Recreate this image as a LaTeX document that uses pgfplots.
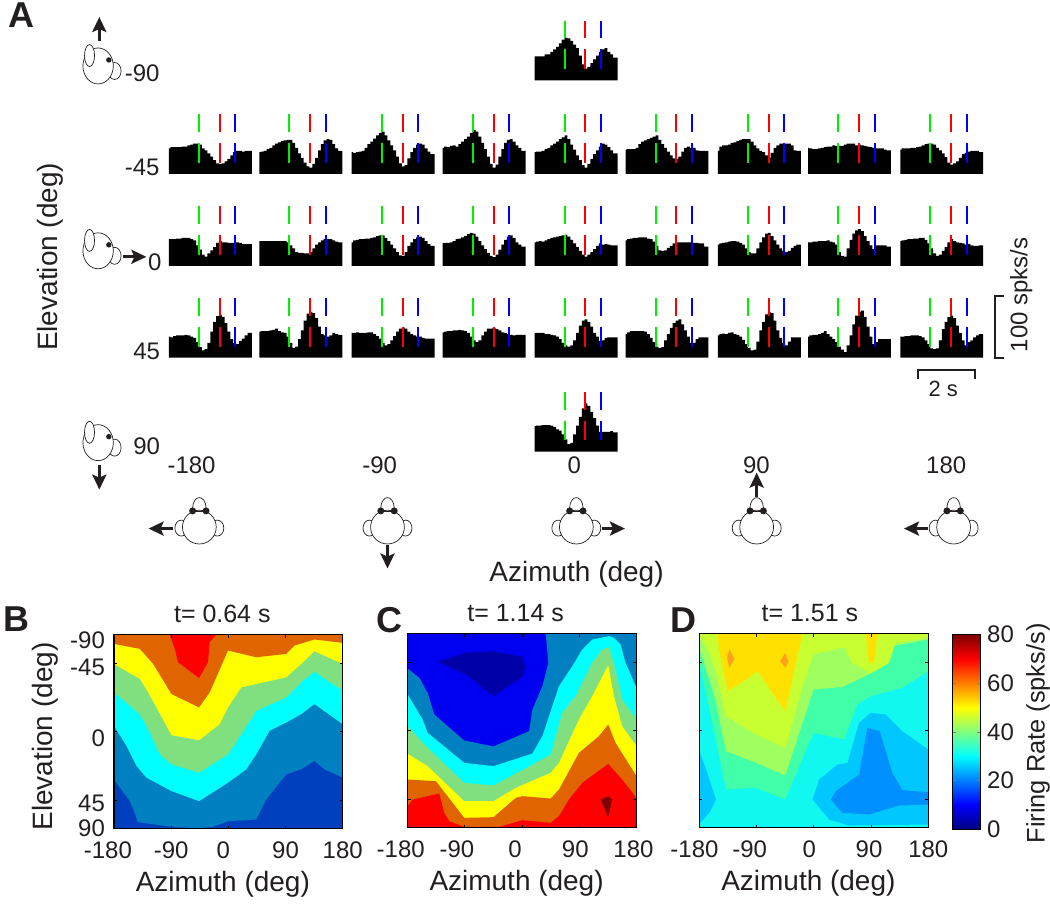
\documentclass[border=0pt]{standalone}
\usepackage{fontspec}
\setmainfont{Liberation Sans}
\usepackage{pgfplots}
\usepackage{pgfplotstable}
\pgfplotsset{compat=1.18}
\usetikzlibrary{arrows.meta}

\definecolor{ink}{HTML}{231F20}
\definecolor{tgreen}{RGB}{0,240,0}
\definecolor{tred}{RGB}{255,0,0}
\definecolor{tblue}{RGB}{0,0,255}
\definecolor{cB0}{HTML}{0040BF}
\definecolor{cband}{HTML}{0080C0}
\definecolor{ccyan}{HTML}{00FFFF}
\definecolor{cgreen}{HTML}{80E080}
\definecolor{cyel}{HTML}{FFFF00}
\definecolor{corange}{HTML}{E06400}
\definecolor{cred}{HTML}{FF0000}
\definecolor{cdred}{HTML}{800000}
\definecolor{cblue}{HTML}{0000F0}
\definecolor{cdblue}{HTML}{0000A8}
\definecolor{dcyan}{HTML}{10F8F0}
\definecolor{dsea}{HTML}{40FFA8}
\definecolor{dgreen}{HTML}{A0FF60}
\definecolor{dlime}{HTML}{C8FF30}
\definecolor{dyel}{HTML}{FFE000}
\definecolor{dorange}{HTML}{FFA020}
\definecolor{dlblue}{HTML}{00C8FF}
\definecolor{dblue}{HTML}{0090FF}

% one row per panel: firing rate (spks/s) in bins of 0.1 s
\pgfplotstableread{
name v0 v1 v2 v3 v4 v5 v6 v7 v8 v9 v10 v11 v12 v13 v14 v15 v16 v17 v18 v19 v20 v21 v22 v23 v24 v25 v26 v27 v28 v29
t 0 .1 .2 .3 .4 .5 .6 .7 .8 .9 1 1.1 1.2 1.3 1.4 1.5 1.6 1.7 1.8 1.9 2 2.1 2.2 2.3 2.4 2.5 2.6 2.7 2.8 2.9
top 39 39 39 39 42 42 46 50 54 60 66 69 68 64 58 52 40 26 19 22 28 34 40 46 50 52 46 42 37 37
bot 41 42 42 43 43 43 42 40 36 34 28 20 12 14 28 42 56 70 78 74 64 54 42 32 32 32 32 33 31 31
ac1 41 43 43 43 43 44 44 46 47 49 49 47 41 38 33 28 22 17 16 17 20 24 30 35 37 37 36 37 37 37
ac2 35 36 37 40 42 46 49 51 53 54 55 55 50 42 33 26 18 12 10 16 26 38 48 54 56 55 48 41 37 37
ac3 35 34 35 36 37 42 48 52 57 62 66 68 62 54 46 38 28 17 12 14 25 35 42 47 49 47 41 36 32 32
ac4 42 44 43 45 46 44 48 52 56 60 66 71 68 60 50 40 28 16 10 15 28 40 50 55 56 52 46 42 37 37
ac5 35 36 36 37 40 42 46 49 52 56 59 62 56 47 39 30 22 14 10 16 24 32 38 44 49 47 43 38 33 33
ac6 39 40 40 40 42 48 52 54 56 58 60 62 55 48 42 36 30 25 24 28 36 42 44 42 42 38 37 37 37 37
ac7 37 44 46 46 47 50 51 53 55 56 56 56 52 46 41 37 35 30 26 34 42 46 49 49 49 49 46 38 37 37
ac8 42 41 40 40 41 42 43 44 44 46 45 45 45 47 49 49 49 46 47 46 45 44 43 42 41 41 41 39 38 38
ac9 39 41 41 41 42 42 43 44 46 48 49 49 47 42 38 33 27 18 15 17 20 26 32 34 36 37 37 37 35 35
bc1 43 43 43 44 44 45 45 45 43 41 33 26 18 15 20 25 30 37 40 38 38 37 37 37 38 37 35 35 35 35
bc2 40 40 40 40 40 40 40 40 40 40 38 33 28 22 21 21 20 20 22 28 34 38 41 43 43 43 41 39 38 38
bc3 38 41 42 43 43 44 44 45 46 48 49 49 45 40 34 28 22 17 16 22 32 38 43 46 47 45 40 35 32 32
bc4 37 37 37 38 40 43 44 46 48 51 53 52 47 40 33 27 21 16 14 18 26 34 42 47 49 45 38 34 31 31
bc5 38 39 40 39 41 43 45 46 47 48 49 50 47 42 36 30 24 18 15 18 22 27 32 36 34 35 34 33 33 33
bc6 41 43 44 45 45 46 46 46 44 43 39 32 25 24 25 29 32 36 38 38 38 38 38 38 37 37 36 36 31 31
bc7 34 36 37 38 39 40 40 39 37 34 28 22 20 20 28 38 46 52 53 48 41 34 28 24 22 24 29 32 34 34
bc8 38 38 39 39 40 40 40 41 39 38 34 22 16 15 28 42 52 57 59 56 48 40 33 27 33 33 33 33 31 31
bc9 40 41 42 43 43 44 44 45 45 42 36 28 20 16 18 24 30 38 43 40 38 37 36 34 35 33 32 32 33 33
cc1 34 33 35 36 36 36 37 36 34 32 25 17 12 14 24 42 58 67 69 66 56 42 30 24 22 27 31 36 40 40
cc2 42 43 43 43 44 45 47 43 41 40 34 24 16 18 30 44 60 71 74 72 64 50 38 36 34 36 40 38 37 37
cc3 40 40 41 40 40 40 41 41 38 35 31 24 20 22 28 35 42 47 49 47 42 38 36 34 34 32 31 31 31 31
cc4 41 42 43 43 44 44 45 44 43 40 34 28 25 28 36 42 47 47 48 46 44 41 40 38 37 36 37 37 37 37
cc5 40 40 40 40 38 38 37 36 34 30 24 20 18 20 28 40 52 60 62 58 50 40 34 27 28 32 33 33 33 33
cc6 38 41 43 43 43 43 43 42 38 32 25 18 16 17 28 38 48 56 60 62 54 44 34 24 24 30 33 33 33 33
cc7 36 38 39 38 40 41 38 37 34 29 22 16 12 13 26 44 58 70 74 72 60 44 32 24 20 26 33 33 33 33
cc8 34 36 37 37 38 40 43 38 34 30 25 18 13 9 20 36 54 68 74 76 66 50 34 22 25 30 30 30 30 30
cc9 34 34 35 35 36 36 36 35 33 28 22 15 14 15 28 46 58 66 68 64 52 40 28 20 25 28 33 36 38 38
}\raw
\pgfplotstabletranspose[colnames from=name,input colnames to=bin]\T{\raw}

\newcommand\sh[2]{#2\kern#1pt}
\newcommand\yl[2]{\raisebox{\dimexpr -4.3pt - #1pt\relax}[0pt][0pt]{#2}}

\pgfplotsset{
  psth/.style={hide axis,scale only axis,width=41.5pt,height=31pt,
    xmin=0,xmax=2.9,ymin=0,ymax=100,anchor=south west,clip=false},
  heat/.style={scale only axis,width=114.5pt,height=97.25pt,anchor=north west,
    xmin=-180,xmax=180,ymin=-1,ymax=1,y dir=reverse,axis on top,
    tick align=inside,major tick length=1.5pt,axis line style={line width=.6pt,color=black},
    tick style={line width=.4pt,color=black},
    xtick={-180,-90,0,90,180},
    ytick={-1,-0.707,0,0.707,1},
    tick label style={font=\fontsize{12}{14}\selectfont,text=ink},
    xticklabel style={yshift=-3pt},
    xlabel={Azimuth (deg)},
    xlabel style={at={(axis description cs:0.476,-0.287)},anchor=center,
      font=\fontsize{14}{16}\selectfont,text=ink},
  },
}

\newcommand\psth[3]{%
  \begin{axis}[psth,at={({#2*0.5pt},{-#3*0.5pt})}]
    \addplot[const plot mark mid,fill=black,draw=none] table[x=t,y=#1]{\T} \closedcycle;
    \addplot[tgreen,line width=1pt] coordinates {(1.05,18)(1.05,50)};
    \addplot[tgreen,line width=1pt] coordinates {(1.05,68)(1.05,96)};
    \addplot[tred,line width=1pt] coordinates {(1.78,18)(1.78,50)};
    \addplot[tred,line width=1pt] coordinates {(1.78,68)(1.78,96)};
    \addplot[tblue,line width=1pt] coordinates {(2.33,18)(2.33,50)};
    \addplot[tblue,line width=1pt] coordinates {(2.33,68)(2.33,96)};
  \end{axis}}

% contour bands, digitised in crop pixels and mapped onto azimuth and sin(elevation)
\newcommand\band[2]{%
  \addplot[fill=#1,draw=none] table[row sep=\\,header=false,
    x expr={(\thisrowno{0}-\xa)/\xw*360-180},
    y expr={(\thisrowno{1}-\ya)/\yh*2-1}] {#2};}

\newcommand\side[2]{%
  \begin{scope}[shift={(#1,#2)},line width=.35pt,draw=ink]
    \draw (16.5,5) ellipse (6.5 and 8.5);
    \filldraw[fill=white] (0,0) ellipse (15.2 and 18);
    \draw[fill=white] (-8.6,-10.4) ellipse (5 and 11);
    \fill[ink] (10.7,-6) circle (2.7);
  \end{scope}}
\newcommand\topv[2]{%
  \begin{scope}[shift={(#1,#2)},line width=.35pt,draw=ink]
    \draw (-18,1) ellipse (6.5 and 8);
    \draw (18,1) ellipse (6.5 and 8);
    \draw (-6.8,-19) .. controls (-6,-33) and (6,-33) .. (6.8,-19);
    \filldraw[fill=white] (0,0) circle (16.9);
    \draw (-6.8,-16.2) -- (6.8,-16.2);
    \fill[ink] (-6.7,-16.2) circle (3.5);
    \fill[ink] (6.7,-16.2) circle (3.5);
  \end{scope}}
\newcommand\arr[2]{\draw[ink,line width=1.5pt,-{Stealth[length=7.5pt,width=7pt,inset=1.5pt]}] #1 -- #2;}
\newcommand\lab[3]{\node[text=ink,anchor=#1,inner sep=0pt,font=\fontsize{12}{14}\selectfont] at #2 {#3};}
\newcommand\panel[2]{\node[text=ink,anchor=center,inner sep=0pt,font=\fontsize{18}{20}\selectfont\bfseries] at #1 {#2};}
\newcommand\ttl[2]{\node[text=ink,inner sep=0pt,font=\fontsize{12.5}{14}\selectfont] at #1 {#2};}

\begin{document}
\begin{tikzpicture}
\begin{scope}[x=0.5pt,y=-0.5pt]
  \useasboundingbox (0,0) rectangle (1050,911);
\end{scope}

% --- panel A
\psth{top}{535}{80.5}
\psth{bot}{535}{452}
\foreach \rname/\ry in {a/174,b/266,c/358}{
  \foreach \col/\cx in {1/169,2/259.6,3/352,4/443,5/535,6/626,7/718.4,8/808.7,9/901}{
    \edef\doit{\noexpand\psth{\rname c\col}{\cx}{\ry}}\doit
  }
}

\begin{scope}[x=0.5pt,y=-0.5pt]
  \side{98.2}{66}
  \side{98.2}{251}
  \side{98.2}{443}
  \arr{(99.4,41)}{(99.4,17)}
  \arr{(123,257)}{(146.5,257)}
  \arr{(99.4,465.5)}{(99.4,490)}
  \topv{199.5}{527.5}
  \topv{387.8}{527.5}
  \topv{576.8}{527.5}
  \topv{757.3}{527.5}
  \topv{954.4}{527.5}
  \arr{(173,529)}{(148.7,529)}
  \arr{(387.8,545)}{(387.8,569)}
  \arr{(602,529)}{(625.5,529)}
  \arr{(757.3,497)}{(757.3,473)}
  \arr{(929,529)}{(904.7,529)}

  \lab{east}{(160,73)}{-90}
  \lab{east}{(160,167)}{-45}
  \lab{east}{(162,262)}{0}
  \lab{east}{(160.5,352)}{45}
  \lab{east}{(160.5,447)}{90}
  \lab{center}{(191.7,466)}{-180}
  \lab{center}{(380,466)}{-90}
  \lab{center}{(574.8,466)}{0}
  \lab{center}{(757,466)}{90}
  \lab{center}{(947,466)}{180}

  \node[text=ink,rotate=90,inner sep=0pt,font=\fontsize{14}{16}\selectfont] at (50,257) {Elevation (deg)};
  \node[text=ink,inner sep=0pt,font=\fontsize{14}{16}\selectfont] at (577,575) {Azimuth (deg)};
  \node[text=ink,rotate=90,inner sep=0pt,font=\fontsize{12}{14}\selectfont] at (1022,295) {100 spks/s};
  \node[text=ink,inner sep=0pt,font=\fontsize{11}{13}\selectfont] at (944,389) {2 s};
  \draw[ink,line width=1pt] (1005,296) -- (995.5,296) -- (995.5,358.5) -- (1005,358.5);
  \draw[ink,line width=1pt] (919,379.5) -- (919,370.5) -- (976,370.5) -- (976,379.5);

  \panel{(22,15)}{A}
  \panel{(17,620)}{B}
  \panel{(389.5,621)}{C}
  \panel{(684,621)}{D}

  \ttl{(222.5,614)}{t= 0.64 s}
  \ttl{(516,614)}{t= 1.14 s}
  \ttl{(810.5,614)}{t= 1.51 s}
  \node[text=ink,rotate=90,inner sep=0pt,font=\fontsize{12.7}{15}\selectfont] at (1039,734) {Firing Rate (spks/s)};
\end{scope}

% --- panel B
\def\xa{342}\def\xw{688}\def\ya{107}\def\yh{581}
\begin{axis}[heat,at={(57pt,-317.5pt)},
  xticklabels={\sh{6}{-180},-90,\sh{5}{0},90,180},
  yticklabels={\yl{2.5}{-90},\yl{2}{-45},\yl{3}{0},\yl{1.5}{45},\yl{-0.5}{90}},
  yticklabel style={xshift=-1pt},
  ylabel={Elevation (deg)},
  ylabel style={at={(axis description cs:-0.30,0.475)},anchor=center,rotate=0,
    font=\fontsize{14}{16}\selectfont,text=ink}]
  \band{cB0}{342 107\\1030 107\\1030 688\\342 688\\}
  \band{cband}{342 540\\390 605\\415 668\\515 682\\598 686\\640 682\\685 665\\770 660\\800 600\\860 525\\905 510\\945 485\\975 510\\1030 535\\1030 107\\342 107\\}
  \band{ccyan}{342 380\\380 440\\410 500\\440 535\\515 575\\598 605\\685 550\\740 510\\770 465\\810 395\\860 370\\905 345\\945 315\\1030 375\\1030 107\\342 107\\}
  \band{cgreen}{342 280\\420 345\\450 400\\480 465\\515 495\\598 520\\685 465\\725 405\\770 335\\860 295\\905 250\\945 218\\1030 275\\1030 107\\342 107\\}
  \band{cyel}{342 195\\420 240\\445 280\\515 408\\598 423\\660 375\\685 325\\725 265\\860 235\\905 195\\945 157\\1030 195\\1030 107\\342 107\\}
  \band{corange}{342 135\\420 150\\460 195\\515 285\\598 325\\630 280\\685 155\\770 175\\860 165\\885 140\\945 122\\1030 132\\1030 107\\342 107\\}
  \band{cred}{510 107\\525 150\\535 190\\598 237\\625 190\\630 130\\650 107\\}
\end{axis}

% --- panel C
\def\xa{115}\def\xw{688}\def\ya{102}\def\yh{583}
\begin{axis}[heat,at={(204pt,-317pt)},yticklabels={},
  xticklabels={\sh{7}{-180},\sh{8}{-90},\sh{7}{0},\sh{4}{90},\sh{3}{180}}]
  \band{cblue}{115 102\\803 102\\803 685\\115 685\\}
  \band{cdblue}{205 187\\290 160\\370 155\\462 172\\468 205\\460 232\\373 290\\290 225\\}
  \band{cband}{115 207\\150 235\\175 280\\195 345\\285 423\\373 441\\480 395\\490 330\\520 260\\538 190\\530 102\\803 102\\803 685\\115 685\\}
  \band{ccyan}{115 285\\160 360\\175 400\\285 490\\373 500\\490 462\\520 410\\570 260\\610 200\\640 150\\670 120\\720 110\\735 115\\755 135\\770 190\\803 265\\803 685\\115 685\\}
  \band{cgreen}{115 380\\170 440\\285 550\\373 558\\500 490\\545 465\\580 340\\620 290\\670 190\\700 150\\720 142\\735 190\\760 300\\803 360\\803 685\\115 685\\}
  \band{cyel}{115 463\\175 500\\285 605\\373 605\\440 565\\545 520\\570 490\\630 360\\670 290\\718 197\\735 290\\760 380\\803 440\\803 685\\115 685\\}
  \band{corange}{115 540\\200 545\\285 655\\373 653\\440 595\\460 590\\545 597\\570 570\\630 460\\690 410\\718 375\\740 430\\803 530\\803 685\\115 685\\}
  \band{cred}{115 620\\130 600\\210 582\\225 640\\240 665\\285 682\\390 682\\460 662\\545 670\\570 650\\600 600\\640 550\\718 493\\760 540\\803 595\\803 685\\115 685\\}
  \band{cdred}{695 600\\718 590\\730 600\\718 652\\}
\end{axis}

% --- panel D
\def\xa{30}\def\xw{688}\def\ya{102}\def\yh{583}
\begin{axis}[heat,at={(350pt,-317pt)},yticklabels={},
  xticklabels={\sh{5}{-180},\sh{7}{-90},\sh{4.5}{0},\sh{2}{90},180}]
  \band{dcyan}{30 102\\718 102\\718 685\\30 685\\}
  \band{dsea}{30 190\\60 330\\110 570\\200 565\\288 600\\373 400\\465 420\\505 315\\545 290\\640 265\\718 215\\718 102\\30 102\\}
  \band{dgreen}{30 150\\60 240\\80 310\\110 455\\200 490\\288 528\\373 270\\460 262\\545 222\\610 140\\718 120\\718 102\\30 102\\}
  \band{dlime}{30 110\\55 150\\80 220\\110 350\\200 405\\288 445\\340 260\\373 165\\465 143\\490 190\\545 222\\600 190\\620 130\\718 115\\718 102\\30 102\\}
  \band{dyel}{85 102\\88 150\\115 275\\170 240\\205 215\\288 335\\340 102\\}
  \band{dyel}{530 102\\540 190\\555 190\\565 102\\}
  \band{dorange}{113 175\\120 148\\135 178\\120 205\\}
  \band{dorange}{273 185\\288 160\\297 185\\288 205\\}
  \band{dlblue}{30 455\\50 510\\80 600\\60 640\\30 672\\}
  \band{dlblue}{370 600\\390 540\\445 495\\475 490\\510 370\\545 340\\590 345\\640 395\\718 450\\718 675\\480 678\\420 660\\}
  \band{dblue}{425 600\\440 575\\510 525\\535 385\\572 395\\610 520\\640 572\\718 578\\718 615\\630 618\\540 645\\460 640\\}
\end{axis}

% --- colour bar
\begin{axis}[scale only axis,width=13.65pt,height=97.5pt,anchor=north west,at={(476.8pt,-317.5pt)},
  xmin=0,xmax=1,ymin=0,ymax=80,xtick=\empty,ytick={0,20,40,60,80},yticklabels={0,20,40,60,80},
  yticklabel pos=right,tick align=inside,major tick length=1.5pt,axis on top,
  tick label style={font=\fontsize{12}{14}\selectfont,text=ink},
  axis line style={line width=.5pt},colormap/jet,point meta min=0,point meta max=80]
  \addplot[surf,shader=interp,mesh/rows=2,point meta=y] coordinates {(0,0)(1,0)(0,80)(1,80)};
\end{axis}
\end{tikzpicture}
\end{document}
